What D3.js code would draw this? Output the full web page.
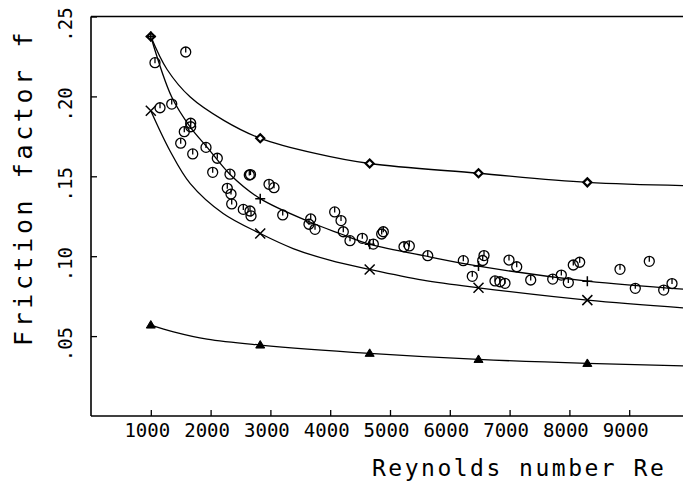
<!DOCTYPE html>
<html><head><meta charset="utf-8">
<script src="https://cdn.jsdelivr.net/npm/d3@7"></script>
<style>
html,body{margin:0;padding:0;background:#fff;}
text{font-family:"DejaVu Sans Mono",monospace;fill:#000;}
</style></head>
<body><svg id="c" width="683" height="484"></svg>
<script>
// ---- data ----
const xTicks = [1000,2000,3000,4000,5000,6000,7000,8000,9000];
const yTicks = [0.05,0.10,0.15,0.20,0.25];
const yTickLabels = [".05",".10",".15",".20",".25"];

const markerRe = [1000,2830,4660,6480,8300];
const diamondF  = [0.2375,0.1738,0.1580,0.1519,0.1462];
const plusF     = [0.2375,0.1360,0.1075,0.0938,0.0844];
const crossF    = [0.1910,0.1142,0.0917,0.0802,0.0725];
const triangleF = [0.0569,0.0444,0.0392,0.0354,0.0329];

const diamondCurveRe = [1000,1270,1660,2220,2830,3770,4660,6480,8300,9900];
const diamondCurveF  = [0.2375,0.2170,0.1996,0.1850,0.1738,0.1642,0.1580,0.1519,0.1462,0.1442];
const plusCurveRe = [1000,1350,1660,1940,2330,2830,3660,4160,4660,5660,6480,8300,9900];
const plusCurveF  = [0.2375,0.1996,0.1808,0.1683,0.1510,0.1360,0.1214,0.1142,0.1075,0.0996,0.0938,0.0844,0.0794];
const crossCurveRe = [1000,1320,1660,2210,2830,3380,3990,4660,5550,6480,8300,9900];
const crossCurveF  = [0.1910,0.1660,0.1454,0.1267,0.1142,0.1048,0.0975,0.0917,0.0850,0.0802,0.0725,0.0677];
const triCurveRe = [1000,1380,1940,2830,4660,6480,8300,9900];
const triCurveF  = [0.0569,0.0527,0.0481,0.0444,0.0392,0.0354,0.0329,0.0314];

const obsRe = [1070,1584,1154,1350,1667,1667,1560,1500,1923,1701,2112,2035,2324,2647,2667,2279,2341,2353,2977,3060,
  2547,2659,2676,3206,3674,3645,3746,4075,4181,4219,4331,4537,4721,4861,4888,5234,5323,5631,6226,6376,
  6572,6550,6990,7119,8065,8172,8846,9336,6756,6839,6923,7353,7721,7865,7982,9102,9577,9716];
const obsF = [0.2211,0.2278,0.1929,0.1952,0.1832,0.1810,0.1779,0.1707,0.1681,0.1640,0.1613,0.1525,0.1513,0.1508,0.1511,0.1425,0.1389,0.1327,0.1450,0.1429,
  0.1293,0.1283,0.1252,0.1258,0.1233,0.1200,0.1168,0.1277,0.1223,0.1153,0.1097,0.1112,0.1076,0.1139,0.1153,0.1059,0.1064,0.1003,0.0972,0.0874,
  0.1004,0.0973,0.0976,0.0934,0.0945,0.0962,0.0918,0.0968,0.0845,0.0840,0.0830,0.0851,0.0857,0.0882,0.0835,0.0799,0.0788,0.0829];

// ---- drawing ----
const svg = d3.select("#c");
const x = d3.scaleLinear().domain([0,10000]).range([91,689]);
const y = d3.scaleLinear().domain([0,0.25]).range([416,16.5]);

// frame lines
const frame = svg.append("g").attr("stroke","#000").attr("stroke-width",1.6);
frame.append("line").attr("x1",x(0)).attr("x2",683).attr("y1",y(0.25)).attr("y2",y(0.25));

// axes
const gx = svg.append("g").attr("transform",`translate(0,${y(0)})`)
  .call(d3.axisBottom(x).tickValues(xTicks).tickSizeInner(-6).tickSizeOuter(0).tickFormat(""));
gx.select(".domain").attr("d",`M${x(0)},0H683`).attr("stroke-width",1.6);
gx.selectAll(".tick line").attr("stroke-width",1.3);
const gy = svg.append("g").attr("transform",`translate(${x(0)},0)`)
  .call(d3.axisLeft(y).tickValues(yTicks).tickSizeInner(-6).tickSizeOuter(0).tickFormat(""));
gy.select(".domain").attr("d",`M0,${y(0.25)}V${y(0)}`).attr("stroke-width",1.6);
gy.selectAll(".tick line").attr("stroke-width",1.3);

// tick labels
svg.append("g").selectAll("text").data(xTicks).join("text")
  .attr("x",d=>x(d)-3.5).attr("y",437).attr("text-anchor","middle")
  .attr("font-size",19).text(d=>d);
svg.append("g").selectAll("text").data(yTicks).join("text")
  .attr("transform",d=>`translate(72,${y(d)+8}) rotate(-90)`)
  .attr("text-anchor","middle").attr("font-size",19)
  .text((d,i)=>yTickLabels[i]);

// axis titles
svg.append("text").attr("x",372).attr("y",476).attr("font-size",23)
  .attr("letter-spacing",2.5).text("Reynolds number Re");
svg.append("text").attr("transform","translate(32,346) rotate(-90)")
  .attr("font-size",25).attr("letter-spacing",3.6).text("Friction factor f");

// curves
const line = d3.line().x(d=>x(d[0])).y(d=>y(d[1])).curve(d3.curveCatmullRom.alpha(0.5));
const curves = [[diamondCurveRe,diamondCurveF],[plusCurveRe,plusCurveF],[crossCurveRe,crossCurveF],[triCurveRe,triCurveF]];
svg.append("g").selectAll("path").data(curves).join("path")
  .attr("d",c=>line(c[0].map((r,i)=>[r,c[1][i]])))
  .attr("fill","none").attr("stroke","#000").attr("stroke-width",1.3);

// markers
const mk = svg.append("g").attr("stroke","#000");
mk.selectAll(".dia").data(markerRe).join("path")
  .attr("d",(d,i)=>{const cx=x(d),cy=y(diamondF[i]),s=4;return `M${cx},${cy-s}L${cx+s},${cy}L${cx},${cy+s}L${cx-s},${cy}Z`;})
  .attr("fill","#fff").attr("stroke-width",2.2);
mk.selectAll(".plus").data(markerRe).join("path")
  .attr("d",(d,i)=>{const cx=x(d),cy=y(plusF[i]),s=5;return `M${cx-s},${cy}H${cx+s}M${cx},${cy-s}V${cy+s}`;})
  .attr("stroke-width",1.5);
mk.selectAll(".cross").data(markerRe).join("path")
  .attr("d",(d,i)=>{const cx=x(d),cy=y(crossF[i]),s=5;return `M${cx-s},${cy-s}L${cx+s},${cy+s}M${cx-s},${cy+s}L${cx+s},${cy-s}`;})
  .attr("stroke-width",1.5);
mk.selectAll(".tri").data(markerRe).join("path")
  .attr("d",(d,i)=>{const cx=x(d),cy=y(triangleF[i]);return `M${cx},${cy-4.5}L${cx+4.5},${cy+3}L${cx-4.5},${cy+3}Z`;})
  .attr("fill","#000").attr("stroke-width",1);

// observed data circles
const ob = svg.append("g").attr("stroke","#000").attr("fill","none").attr("stroke-width",1.3);
ob.selectAll("g").data(obsRe).join("g")
  .attr("transform",(d,i)=>`translate(${x(d)},${y(obsF[i])})`)
  .each(function(){
    const g=d3.select(this);
    g.append("circle").attr("r",5);
    g.append("line").attr("x1",0).attr("x2",0).attr("y1",-5).attr("y2",0.5);
  });
</script></body></html>
